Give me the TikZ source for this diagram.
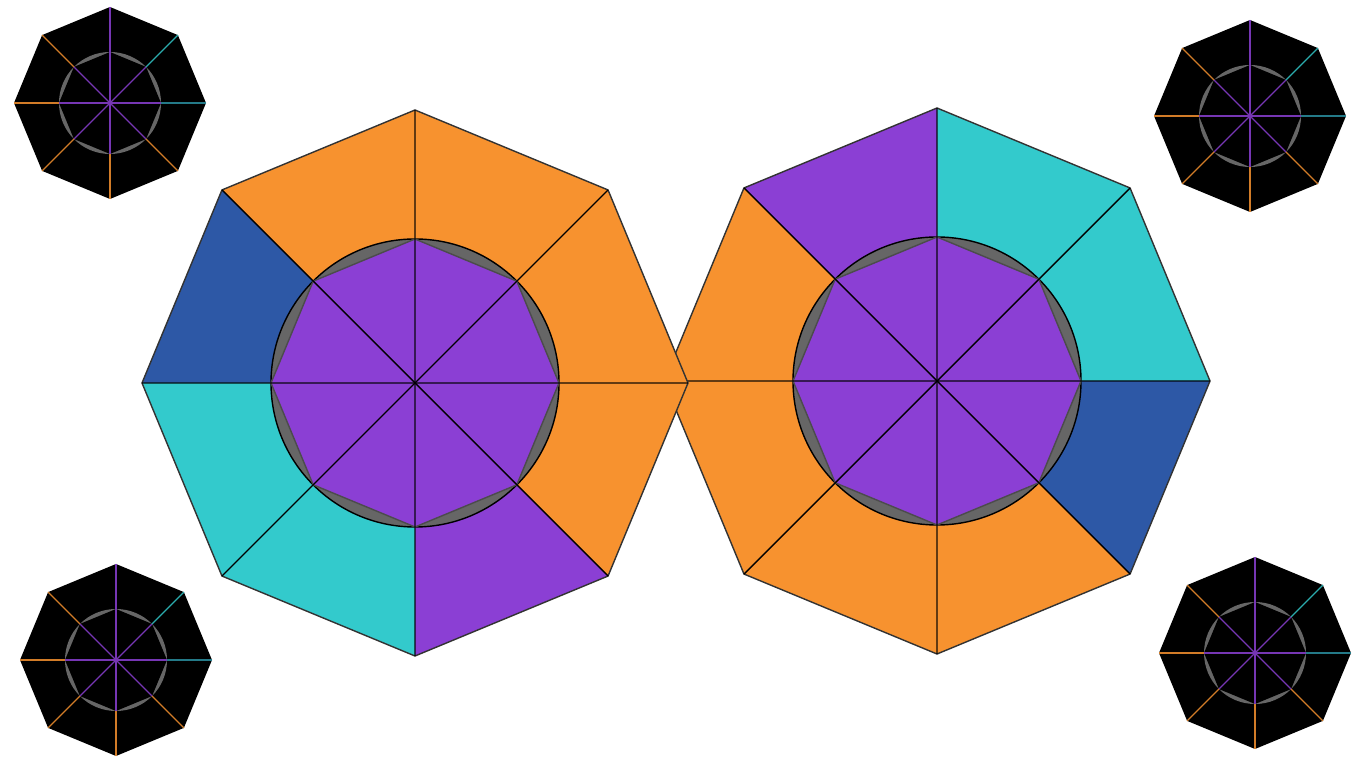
\documentclass[tikz,border=0pt]{standalone}
\usepackage{xcolor}
\usepackage{tikz}
\definecolor{segOrange}{HTML}{F7922F}
\definecolor{segPurple}{HTML}{8B3FD4}
\definecolor{segCyan}{HTML}{33CACC}
\definecolor{segBlue}{HTML}{2D58A6}
\definecolor{segTeal}{HTML}{2A8FA0}
\definecolor{ringGray}{HTML}{666666}

\begin{document}
\begin{tikzpicture}
        \useasboundingbox (0,0) rectangle (13.66,7.68);
        \def\R{2.73}
        \def\r{1.44}
        \def\sR{0.96}
        \def\sr{0.51}
        % right wheel (drawn first, left one overlaps it)
        \begin{scope}[shift={(9.37,3.87)}]
            \foreach \c [count=\k from 0] in {segCyan,segCyan,segPurple,segOrange,segOrange,segOrange,segOrange,segBlue} {
                \fill[\c] (0,0) -- (45*\k:\R) -- (45*\k+45:\R) -- cycle;
            }
            \draw[black!80, thin] (0:\R) \foreach \a in {45,90,...,315} { -- (\a:\R) } -- cycle;
            \filldraw[fill=ringGray, draw=black, thin] (0,0) circle (\r);
            \filldraw[fill=segPurple, draw=black!70, thin] (0:\r) \foreach \a in {45,90,...,315} { -- (\a:\r) } -- cycle;
            \foreach \a in {45,135,225,315} \draw[black, thin] (0,0) -- (\a:\R);
            \foreach \a in {0,90,180,270} \draw[black, opacity=0.6, line width=0.8pt] (0,0) -- (\a:\R);
        \end{scope}
        % left wheel
        \begin{scope}[shift={(4.15,3.85)}]
            \foreach \c [count=\k from 0] in {segOrange,segOrange,segOrange,segBlue,segCyan,segCyan,segPurple,segOrange} {
                \fill[\c] (0,0) -- (45*\k:\R) -- (45*\k+45:\R) -- cycle;
            }
            \draw[black!80, thin] (0:\R) \foreach \a in {45,90,...,315} { -- (\a:\R) } -- cycle;
            \filldraw[fill=ringGray, draw=black, thin] (0,0) circle (\r);
            \filldraw[fill=segPurple, draw=black!70, thin] (0:\r) \foreach \a in {45,90,...,315} { -- (\a:\r) } -- cycle;
            \foreach \a in {45,135,225,315} \draw[black, thin] (0,0) -- (\a:\R);
            \foreach \a in {0,90,180,270} \draw[black, opacity=0.6, line width=0.8pt] (0,0) -- (\a:\R);
        \end{scope}
        % corner minis
        \foreach \cx/\cy in {1.10/6.65, 12.50/6.52, 1.16/1.08, 12.55/1.15} {
            \begin{scope}[shift={(\cx,\cy)}]
                \fill[black] (0:\sR) \foreach \a in {45,90,...,315} { -- (\a:\sR) } -- cycle;
                \fill[ringGray] (0,0) circle (\sr);
                \fill[black] (0:\sr) \foreach \a in {45,90,...,315} { -- (\a:\sr) } -- cycle;
                \foreach \c [count=\k from 0] in {segTeal,segCyan,segPurple,segOrange,segOrange,segOrange,segOrange,segOrange} {
                    \draw[segPurple!85!black, line width=0.35pt] (0,0) -- (45*\k:\sr);
                    \draw[\c!85!black, line width=0.35pt] (45*\k:\sr) -- (45*\k:\sR);
                }
            \end{scope}
        }
    \end{tikzpicture}
\end{document}
